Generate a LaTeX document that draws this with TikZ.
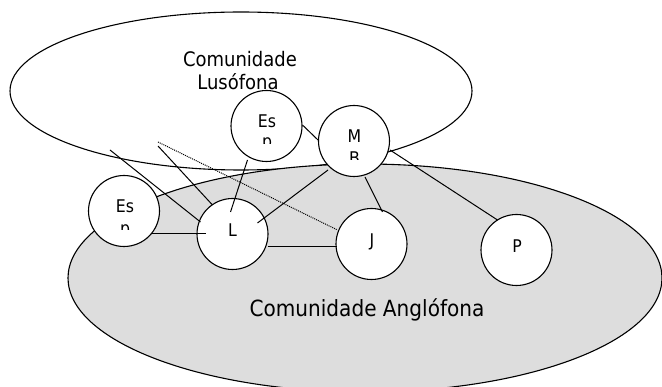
\documentclass[tikz,border=0pt]{standalone}
\usepackage{fontspec}
\setmainfont{DejaVu Sans}[FakeStretch=0.9]
\usetikzlibrary{calc,shapes.geometric}
\begin{document}
\begin{tikzpicture}[x=1pt,y=-1pt,
  community/.style={ellipse,draw,line width=1.1pt,inner sep=0pt},
  member/.style={circle,draw,fill=white,line width=1.1pt,minimum size=71pt,inner sep=0pt},
  lbl/.style={anchor=base,inner sep=0pt,font=\fontsize{17.5}{20}\selectfont},
  biglbl/.style={anchor=base,inner sep=0pt},
  tie/.style={line width=1pt},
  weak/.style={line width=1pt,dash pattern=on 1pt off 1pt}]
\useasboundingbox (0,0) rectangle (662,387);
\clip (0,0) rectangle (662,387);
% communities
\node[community,fill=white,minimum width=462pt,minimum height=158pt] (lus) at (241,91) {};
\node[community,fill=black!13.5,minimum width=594pt,minimum height=228pt] (ang) at (365,278) {};
\node[biglbl,font=\fontsize{20}{23}\selectfont] (lusA) at (240,67) {Comunidade};
\node[biglbl,font=\fontsize{20}{23}\selectfont] (lusB) at (238,90) {Lusófona};
\node[biglbl,font=\fontsize{22.3}{26}\selectfont] (angT) at (367,317) {Comunidade Anglófona};
% members
\node[member] (esT) at (266.5,126) {};
\node[member] (M) at (354,141) {};
\node[member] (esL) at (124,211) {};
\node[member] (L) at (232.5,234) {};
\node[member] (J) at (371.5,244) {};
\node[member] (P) at (516.5,250) {};
% labels
\node[lbl] (esTa) at (267,128) {Es};
\begin{scope}
  \clip (230,100) rectangle (300,144);
  \node[lbl] (esTb) at (267,147.3) {p};
\end{scope}
\node[lbl] (Ma) at (354.5,143) {M};
\begin{scope}
  \clip (320,100) rectangle (390,160);
  \node[lbl] (Mb) at (354.5,164.4) {B};
\end{scope}
\node[lbl] (esLa) at (125,213) {Es};
\begin{scope}
  \clip (90,180) rectangle (160,230);
  \node[lbl] (esLb) at (125,234.3) {p};
\end{scope}
\node[lbl] (La) at (232.5,237) {L};
\node[lbl] (Ja) at (372,247) {J};
\node[lbl] (Pa) at (517,253) {P};
% free ends
\coordinate (fa) at (110,150);
\coordinate (fb) at (158,146);
\coordinate (fc) at (158,142);
% connectors
\draw[tie] ($(esT)+(36,-1)$) -- ($(M)+(-36,-1)$);
\draw[tie] ($(esT)+(-19,34)$) -- ($(L)+(-2,-22)$);
\draw[tie] ($(M)+(-26,29)$) -- ($(L)+(25,-11)$);
\draw[tie] ($(M)+(11,36)$) -- ($(J)+(11,-32)$);
\draw[tie] ($(M)+(36,9)$) -- ($(P)+(-19,-30)$);
\draw[tie] ($(esL)+(28,23)$) -- ($(L)+(-27,0)$);
\draw[tie] ($(L)+(35,13)$) -- ($(J)+(-35,3)$);
\draw[tie] (fa) -- ($(L)+(-32,-12)$);
\draw[tie] (fb) -- ($(L)+(-20,-29)$);
\draw[weak] (fc) -- ($(J)+(-34,-14)$);
\end{tikzpicture}
\end{document}
